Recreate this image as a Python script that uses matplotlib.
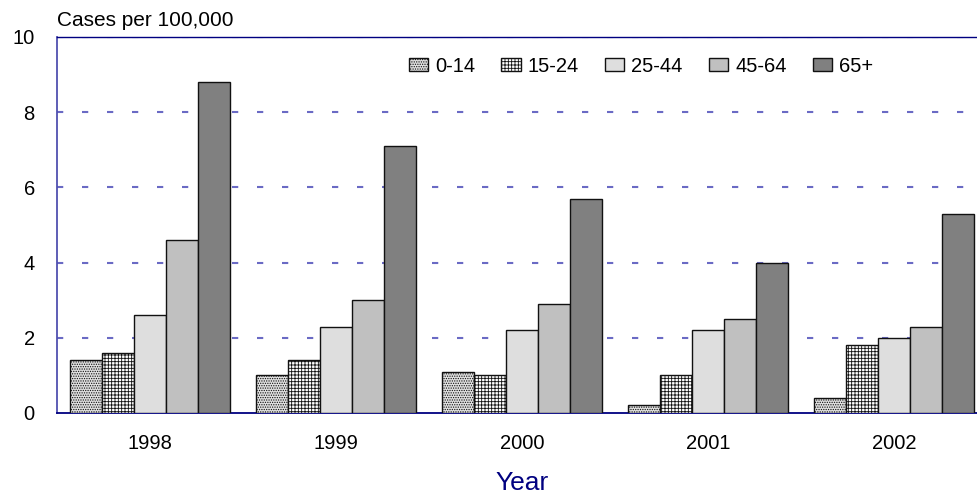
import numpy as np
import matplotlib as mpl
mpl.use('Agg')
import matplotlib.pyplot as plt

years = ['1998', '1999', '2000', '2001', '2002']
groups = ['0-14', '15-24', '25-44', '45-64', '65+']
rates = {
    '0-14':  [1.4, 1.0, 1.1, 0.2, 0.4],
    '15-24': [1.6, 1.4, 1.0, 1.0, 1.8],
    '25-44': [2.6, 2.3, 2.2, 2.2, 2.0],
    '45-64': [4.6, 3.0, 2.9, 2.5, 2.3],
    '65+':   [8.8, 7.1, 5.7, 4.0, 5.3],
}

faces = ['#e0e0e0', 'white', '#dedede', '#c0c0c0', '#808080']
hatches = ['.......', '+++++', None, None, None]
navy = '#000080'

mpl.rcParams['font.family'] = 'Liberation Sans'
mpl.rcParams['hatch.linewidth'] = 0.6
mpl.rcParams['hatch.color'] = '#666666'

fig = plt.figure(figsize=(9.77, 4.95), dpi=100)
ax = fig.add_axes([57/977, 1 - 413/495, 930/977, 376/495])

x = np.arange(len(years))
w = 0.172
for i, g in enumerate(groups):
    ax.bar(x + (i - 2) * w, rates[g], width=w, color=faces[i], hatch=hatches[i],
           edgecolor='#111111', linewidth=1.0, label=g, zorder=3)

ax.set_xlim(-0.5, 4.5)
ax.set_ylim(0, 10)
ax.set_yticks([0, 2, 4, 6, 8, 10])
ax.set_xticks(x)
ax.set_xticklabels(years)
ax.tick_params(axis='both', length=0, labelsize=14.5)
ax.tick_params(axis='y', pad=16)
ax.tick_params(axis='x', pad=15)
for yv in [2, 4, 6, 8, 10]:
    ax.axhline(yv, color='#6a6ac4', linestyle=(0, (3, 9)), linewidth=1.5, zorder=1)

ax.spines['right'].set_visible(False)
ax.spines['top'].set_color(navy)
ax.spines['top'].set_linewidth(1.0)
ax.spines['left'].set_color('#5050b0')
ax.spines['left'].set_linewidth(1.3)
ax.spines['bottom'].set_color(navy)
ax.spines['bottom'].set_linewidth(1.3)

ax.set_xlabel('Year', color=navy, fontsize=19, labelpad=13)
fig.text(57/977, 1 - 20/495, 'Cases per 100,000', fontsize=15, va='center', ha='left')

leg = ax.legend(ncol=5, loc='center', frameon=False,
                fontsize=14.5, handlelength=0.95, handleheight=0.6, handletextpad=0.35,
                columnspacing=1.3, borderpad=0, borderaxespad=0,
                bbox_to_anchor=((641 - 57) / 930, (413 - 66) / 376))

fig.savefig('out.png', dpi=100)
